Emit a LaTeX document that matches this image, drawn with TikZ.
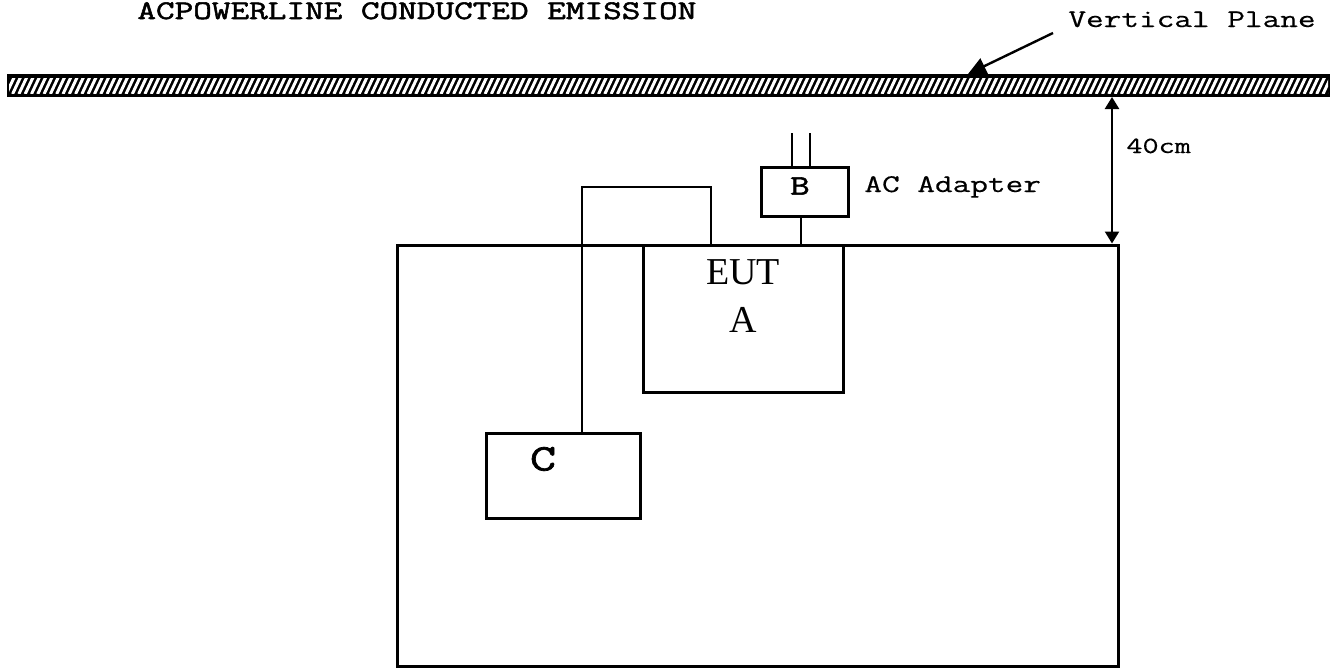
\documentclass[tikz,border=0pt]{standalone}
\usepackage{fontspec}
\setmainfont{Liberation Serif}
\newfontfamily\courfont[FakeStretch=1.35, FakeBold=0.5]{Latin Modern Mono}
\newfontfamily\courbold[FakeStretch=1.35, FakeBold=2]{Latin Modern Mono}
\usetikzlibrary{arrows.meta}
\definecolor{inkcolor}{HTML}{000000}
\definecolor{papercolor}{HTML}{FFFFFF}

\begin{document}
\begin{tikzpicture}[x=0.5pt, y=-0.5pt, >=Stealth,
  unitbox/.style={draw=inkcolor, line width=1.5pt, inner sep=0pt},
  wire/.style={draw=inkcolor, line width=1.2pt},
  tlabel/.style={font=\fontsize{12.7pt}{14pt}\courfont, text=inkcolor, inner sep=0pt}]

  \useasboundingbox (0,0) rectangle (1334,669);

  % Title
  \node[anchor=base west, inner sep=0pt, font=\fontsize{13.4pt}{15pt}\courbold] (title) at (137,19) {ACPOWERLINE CONDUCTED EMISSION};

  % Vertical plane (hatched bar)
  \node[fill=inkcolor, inner sep=0pt, minimum width=661.5pt, minimum height=11.5pt] (plane) at (668.5,85.5) {};
  \begin{scope}
    \clip (9,78) rectangle (1328,93.5);
    \foreach \s in {0,...,212}
      \draw[papercolor, line width=1.5pt] ({\s*6.3},94) -- ++(8,-17);
  \end{scope}
  \node[tlabel, anchor=base west] (vplane) at (1068,27) {Vertical Plane};
  \coordinate (vpfoot) at (1053,33);
  \coordinate (vpmark) at (968,74);
  \draw[wire, -{Triangle[length=9pt,width=8.5pt]}] (vpfoot) -- (vpmark);

  % Table
  \node[unitbox, minimum width=360.5pt, minimum height=210.5pt] (table) at (757.5,455.5) {};

  % EUT A
  \node[unitbox, minimum width=100pt, minimum height=73.5pt] (eut) at (743,318.5) {};
  \node[font=\fontsize{19pt}{22pt}\selectfont, inner sep=0pt] (eutname) at (743,272) {EUT};
  \node[font=\fontsize{19pt}{22pt}\selectfont, inner sep=0pt] (eutA) at (743,320) {A};

  % AC adapter B
  \node[unitbox, minimum width=43.5pt, minimum height=24.5pt] (adapter) at (804.5,191.5) {};
  \node[font=\fontsize{14pt}{16pt}\courbold, inner sep=0pt] (adapterB) at (800,186) {B};
  \node[tlabel, anchor=base west] (adapterlbl) at (864,192) {AC Adapter};
  \coordinate (prongL) at (792,133);
  \coordinate (prongR) at (810,133);
  \draw[wire] (prongL) -- (prongL |- adapter.north);
  \draw[wire] (prongR) -- (prongR |- adapter.north);
  \coordinate (adapterfoot) at (801,216);
  \draw[wire] (adapterfoot) -- (adapterfoot |- table.north);

  % Support unit C
  \node[unitbox, minimum width=77pt, minimum height=42.5pt] (aux) at (563,475.5) {};
  \node[font=\fontsize{18.8pt}{20pt}\courbold, inner sep=0pt] (auxC) at (543,459) {C};

  % Cable C to EUT
  \coordinate (loopL) at (582,187);
  \coordinate (loopR) at (711,187);
  \draw[wire] (aux.north -| loopL) -- (loopL) -- (loopR) -- (loopR |- table.north);

  % 40 cm spacing
  \coordinate (gaptop) at (1112,97);
  \draw[wire, {Triangle[length=6pt,width=7pt]}-{Triangle[length=6pt,width=7pt]}] (gaptop) -- (gaptop |- table.north);
  \node[tlabel, anchor=base west, font=\fontsize{11.6pt}{13pt}\courfont] (gaplbl) at (1126,153) {40cm};

\end{tikzpicture}
\end{document}
